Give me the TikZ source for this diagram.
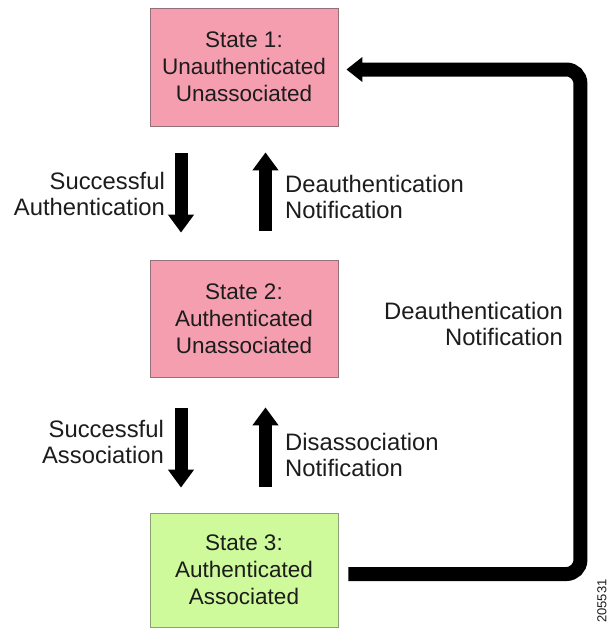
\documentclass[tikz,border=0pt]{standalone}
\usepackage{fontspec}
\setmainfont{Liberation Sans}
\usetikzlibrary{arrows.meta}
\definecolor{statepink}{RGB}{245,158,175}
\definecolor{pinkedge}{RGB}{150,112,120}
\definecolor{stategreen}{RGB}{206,250,156}
\definecolor{greenedge}{RGB}{140,160,118}
\definecolor{ink}{RGB}{28,28,28}
\begin{document}
\begin{tikzpicture}[x=1pt,y=-1pt,
  statebox/.style={draw=pinkedge, line width=0.8pt, fill=statepink,
    minimum width=188pt, align=center, inner sep=0pt, text=ink,
    font=\fontsize{22.5}{27}\selectfont},
  lbl/.style={inner sep=0pt, text=ink, font=\fontsize{23.8}{25.5}\selectfont},
  blockarrow/.style={draw=black, line width=13pt,
    -{Triangle[width=25pt,length=18pt]}},
  returnpath/.style={draw=black, line width=14pt, rounded corners=14pt,
    -{Triangle[width=24pt,length=16pt]}}]
\useasboundingbox (0,0) rectangle (610,630);

% the three association states
\node[statebox, minimum height=118pt] (s1) at (244,67)
  {State 1:\\Unauthenticated\\Unassociated};
\node[statebox, minimum height=117pt] (s2) at (244,318.5)
  {State 2:\\Authenticated\\Unassociated};
\node[statebox, draw=greenedge, fill=stategreen, minimum height=114pt] (s3) at (244,570)
  {State 3:\\Authenticated\\Associated};

% transitions between neighbouring states
\draw[blockarrow, shorten <=27pt, shorten >=27pt]
  ([xshift=-63pt]s1.south) -- ([xshift=-63pt]s2.north);
\draw[blockarrow, shorten <=29pt, shorten >=26pt]
  ([xshift=21.5pt]s2.north) -- ([xshift=21.5pt]s1.south);
\draw[blockarrow, shorten <=31pt, shorten >=25pt]
  ([xshift=-63pt]s2.south) -- ([xshift=-63pt]s3.north);
\draw[blockarrow, shorten <=26pt, shorten >=30pt]
  ([xshift=21.5pt]s3.north) -- ([xshift=21.5pt]s2.south);

% return from state 3 straight to state 1
\draw[returnpath] ([xshift=10pt,yshift=-4pt]s3.east) -- ++(232,0)
  |- ([xshift=8pt,yshift=-2.5pt]s1.east);

% transition labels
\node[lbl, align=right, anchor=east] (l1) at (165,194)
  {Successful\\Authentication};
\node[lbl, align=left, anchor=west] (r1) at (285,197)
  {Deauthentication\\Notification};
\node[lbl, align=right, anchor=east] (l2) at (164,442)
  {Successful\\Association};
\node[lbl, align=left, anchor=west] (r2) at (285,455)
  {Disassociation\\Notification};
\node[lbl, align=right, anchor=east] (rr) at (563,324)
  {Deauthentication\\Notification};

% figure number
\node[inner sep=0pt, text=ink, rotate=90, font=\fontsize{13}{13}\selectfont] (fig) at (602,601) {205531};
\end{tikzpicture}
\end{document}
